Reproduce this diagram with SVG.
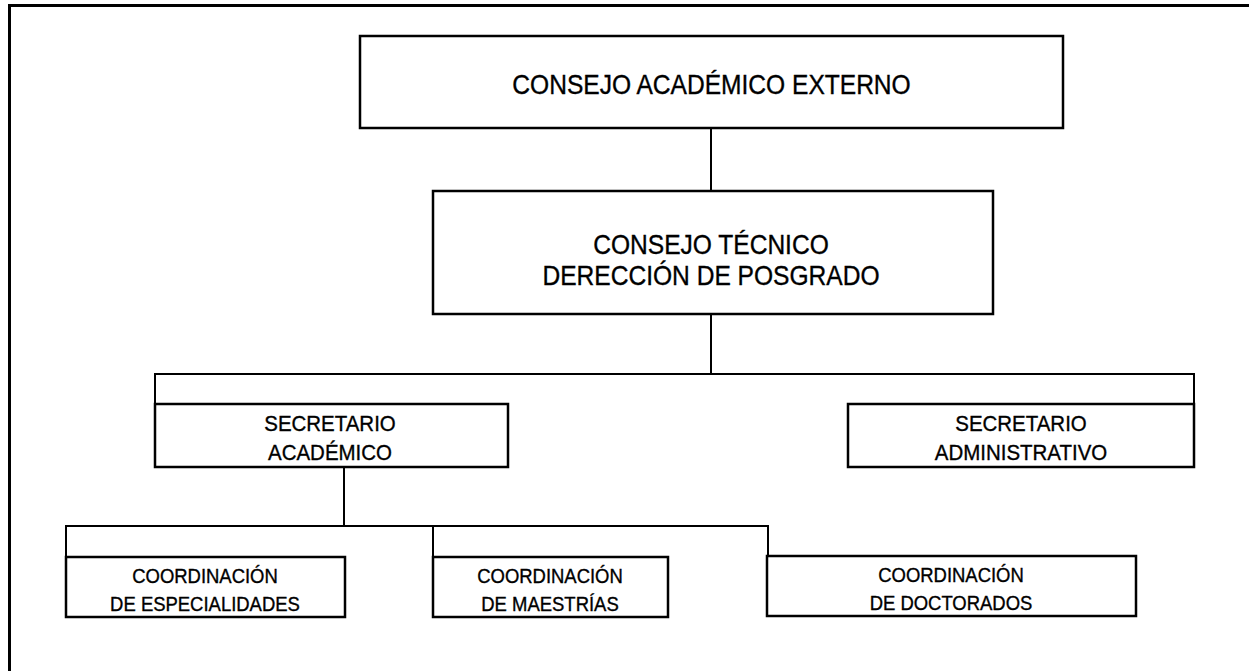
<svg xmlns="http://www.w3.org/2000/svg" width="1249" height="671" viewBox="0 0 1249 671">
<style>
.box{fill:#fff;stroke:#000;stroke-width:2.5}
.conn{fill:none;stroke:#000;stroke-width:2}
.frame{fill:none;stroke:#000;stroke-width:3}
.t{font-family:"Liberation Sans",Arial,sans-serif;fill:#000;stroke:#000;stroke-width:0.35;text-anchor:middle}
.big{font-size:27px}
.mid{font-size:22.5px}
.sm{font-size:20.3px}
</style>
<rect width="1249" height="671" fill="#fff"/>
<path class="frame" d="M9.5,671 V5.5 H1249"/>
<g id="connectors">
<line class="conn" x1="711" y1="128" x2="711" y2="191"/>
<line class="conn" x1="711" y1="314" x2="711" y2="374"/>
<polyline class="conn" points="155,404 155,374 1194,374 1194,404"/>
<line class="conn" x1="344" y1="467" x2="344" y2="526"/>
<polyline class="conn" points="66,557 66,526 768,526 768,556"/>
<line class="conn" x1="433" y1="526" x2="433" y2="557"/>
</g>
<g id="consejo-academico-externo">
<rect class="box" x="360" y="36" width="703" height="92"/>
<text class="t big" transform="translate(711.5,94) scale(0.91,1)">CONSEJO ACADÉMICO EXTERNO</text>
</g>
<g id="consejo-tecnico">
<rect class="box" x="433" y="191" width="560" height="123"/>
<text class="t big" transform="translate(711,254) scale(0.91,1)">CONSEJO TÉCNICO</text>
<text class="t big" transform="translate(711,285) scale(0.91,1)">DERECCIÓN DE POSGRADO</text>
</g>
<g id="secretario-academico">
<rect class="box" x="155" y="404" width="353" height="63"/>
<text class="t mid" transform="translate(330,431) scale(0.91,1)">SECRETARIO</text>
<text class="t mid" transform="translate(330,460) scale(0.91,1)">ACADÉMICO</text>
</g>
<g id="secretario-administrativo">
<rect class="box" x="848" y="404" width="346" height="63"/>
<text class="t mid" transform="translate(1021,431) scale(0.91,1)">SECRETARIO</text>
<text class="t mid" transform="translate(1021,460) scale(0.91,1)">ADMINISTRATIVO</text>
</g>
<g id="coord-especialidades">
<rect class="box" x="66" y="557" width="279" height="60"/>
<text class="t sm" transform="translate(205,583) scale(0.91,1)">COORDINACIÓN</text>
<text class="t sm" transform="translate(205,611) scale(0.91,1)">DE ESPECIALIDADES</text>
</g>
<g id="coord-maestrias">
<rect class="box" x="433" y="557" width="235" height="60"/>
<text class="t sm" transform="translate(550,583) scale(0.91,1)">COORDINACIÓN</text>
<text class="t sm" transform="translate(550,611) scale(0.91,1)">DE MAESTRÍAS</text>
</g>
<g id="coord-doctorados">
<rect class="box" x="767" y="556" width="369" height="60"/>
<text class="t sm" transform="translate(951,582) scale(0.91,1)">COORDINACIÓN</text>
<text class="t sm" transform="translate(951,610) scale(0.91,1)">DE DOCTORADOS</text>
</g>
</svg>
